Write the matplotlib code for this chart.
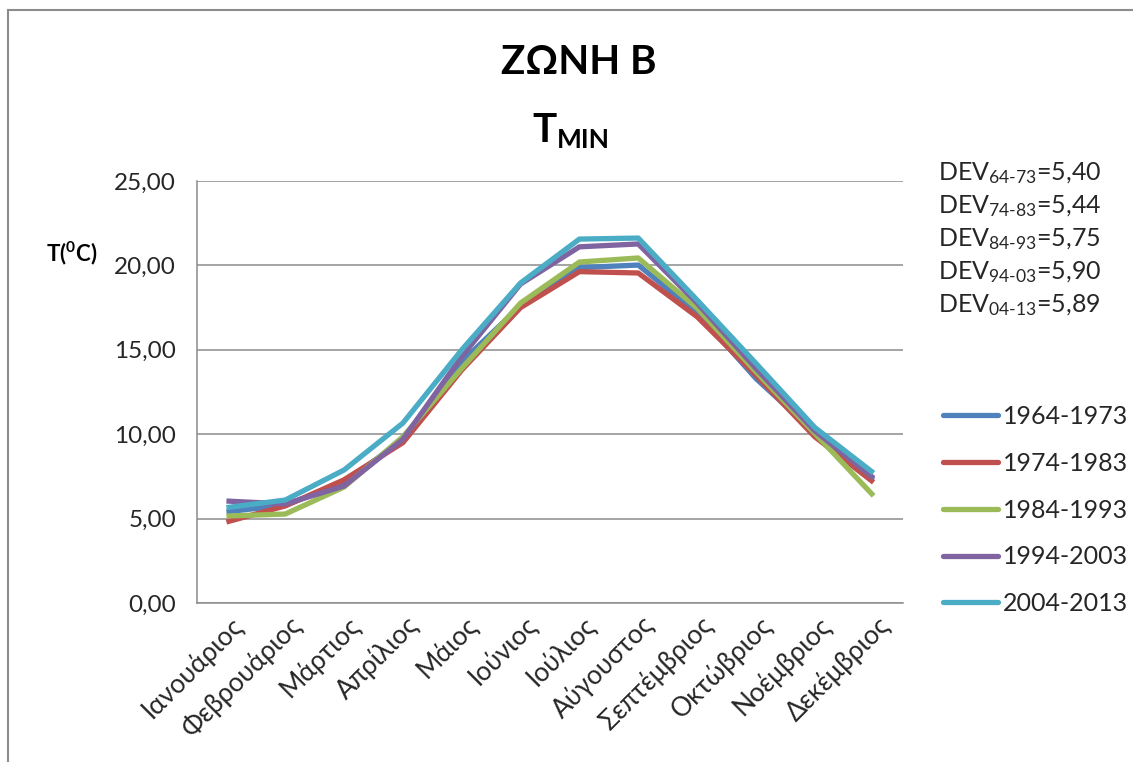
import matplotlib
matplotlib.use("Agg")
import matplotlib.pyplot as plt
from matplotlib.lines import Line2D

plt.rcParams['font.family'] = ['Lato', 'DejaVu Sans']
plt.rcParams['mathtext.fontset'] = 'custom'
plt.rcParams['mathtext.rm'] = 'Lato'
plt.rcParams['mathtext.bf'] = 'Lato:bold'
plt.rcParams['mathtext.it'] = 'Lato:italic'

# Monthly mean minimum temperature, zone B, per decade
months = ['Ιανουάριος', 'Φεβρουάριος', 'Μάρτιος', 'Απρίλιος', 'Μάιος', 'Ιούνιος',
          'Ιούλιος', 'Αύγουστος', 'Σεπτέμβριος', 'Οκτώβριος', 'Νοέμβριος', 'Δεκέμβριος']
periods = ['1964-1973', '1974-1983', '1984-1993', '1994-2003', '2004-2013']
t_64_73 = [5.4, 5.8, 7.1, 9.7, 14.3, 17.6, 19.87, 20.02, 17.2, 13.3, 10.1, 7.3]
t_74_83 = [4.8, 5.75, 7.3, 9.5, 13.8, 17.5, 19.63, 19.55, 16.96, 13.5, 9.85, 7.15]
t_84_93 = [5.15, 5.27, 6.87, 9.85, 13.9, 17.77, 20.2, 20.44, 17.47, 13.7, 10.05, 6.35]
t_94_03 = [6.04, 5.87, 6.93, 9.7, 14.6, 18.9, 21.1, 21.27, 17.77, 13.9, 10.2, 7.4]
t_04_13 = [5.65, 6.1, 7.88, 10.66, 15.0, 18.96, 21.56, 21.62, 17.95, 14.2, 10.4, 7.7]
series = [t_64_73, t_74_83, t_84_93, t_94_03, t_04_13]
colors = ['#4F81BD', '#C0504D', '#9BBB59', '#8064A2', '#4BACC6']

dev_periods = ['64-73', '74-83', '84-93', '94-03', '04-13']
dev_values = ['5,40', '5,44', '5,75', '5,90', '5,89']

W, H = 1133, 762
fig = plt.figure(figsize=(W / 100, H / 100), dpi=100)
ax = fig.add_axes([197 / W, 1 - 603 / H, 706 / W, 422 / H])

x = list(range(len(months)))
for vals, col, lab in zip(series, colors, periods):
    ax.plot(x, vals, color=col, lw=3.8, label=lab, solid_joinstyle='round',
            solid_capstyle='butt')

ax.set_xlim(-0.5, len(months) - 0.5)
ax.set_ylim(0, 25)
ax.set_yticks([0, 5, 10, 15, 20, 25])
ax.set_yticklabels([f'{v:.2f}'.replace('.', ',') for v in [0, 5, 10, 15, 20, 25]],
                   fontsize=17.5, color='#262626')
ax.tick_params(axis='y', length=0, pad=15)
ax.tick_params(axis='x', length=0)
ax.set_xticks(x)
ax.set_xticklabels([])
ax.grid(axis='y', color='#8c8c8c', lw=1.1)
ax.set_axisbelow(True)
for s in ['top', 'right']:
    ax.spines[s].set_visible(False)
for s in ['left', 'bottom']:
    ax.spines[s].set_color('#8c8c8c')
    ax.spines[s].set_linewidth(1.1)

# rotated month labels
for i, m in enumerate(months):
    xp = ax.transData.transform((i, 0))[0] / W + 12 / W
    fig.text(xp, 1 - 621 / H, m, rotation=45, rotation_mode='anchor',
             ha='right', va='center', fontsize=19, color='#262626')

# title
fig.text(579 / W, 1 - 63 / H, 'ΖΩΝΗ Β', ha='center', va='center',
         fontsize=29, fontweight='bold', color='black')
fig.text(557 / W, 1 - 130 / H, 'T', ha='right', va='center',
         fontsize=29, fontweight='bold', color='black')
fig.text(557 / W, 1 - 140 / H, 'MIN', ha='left', va='center',
         fontsize=19, fontweight='bold', color='black')

# y label
fig.text(72 / W, 1 - 253 / H, r'$\mathbf{T(^{0}C)}$', ha='center', va='center',
         fontsize=16, color='black')

# deviation notes
for k, (p, v) in enumerate(zip(dev_periods, dev_values)):
    fig.text(938 / W, 1 - (173 + 33 * k) / H, r'DEV$_{\text{' + p + '}}$=' + v,
             ha='left', va='center', fontsize=18, color='#262626')

# legend
leg_handles = [Line2D([0], [0], color=c, lw=3.8, solid_capstyle='round') for c in colors]
fig.legend(leg_handles, periods, loc='upper left', bbox_to_anchor=(943 / W, 1 - 405 / H),
           frameon=False, fontsize=18, handlelength=2.2, handletextpad=0.2,
           labelspacing=0.95, labelcolor='#262626', borderpad=0, borderaxespad=0)

# outer chart border
fig.add_artist(Line2D([8 / W, 8 / W], [0, 1 - 10 / H], color='#8c8c8c', lw=1.5,
                      transform=fig.transFigure))
fig.add_artist(Line2D([8 / W, 1], [1 - 10 / H, 1 - 10 / H], color='#8c8c8c', lw=1.5,
                      transform=fig.transFigure))

fig.savefig('out.png', dpi=100)
